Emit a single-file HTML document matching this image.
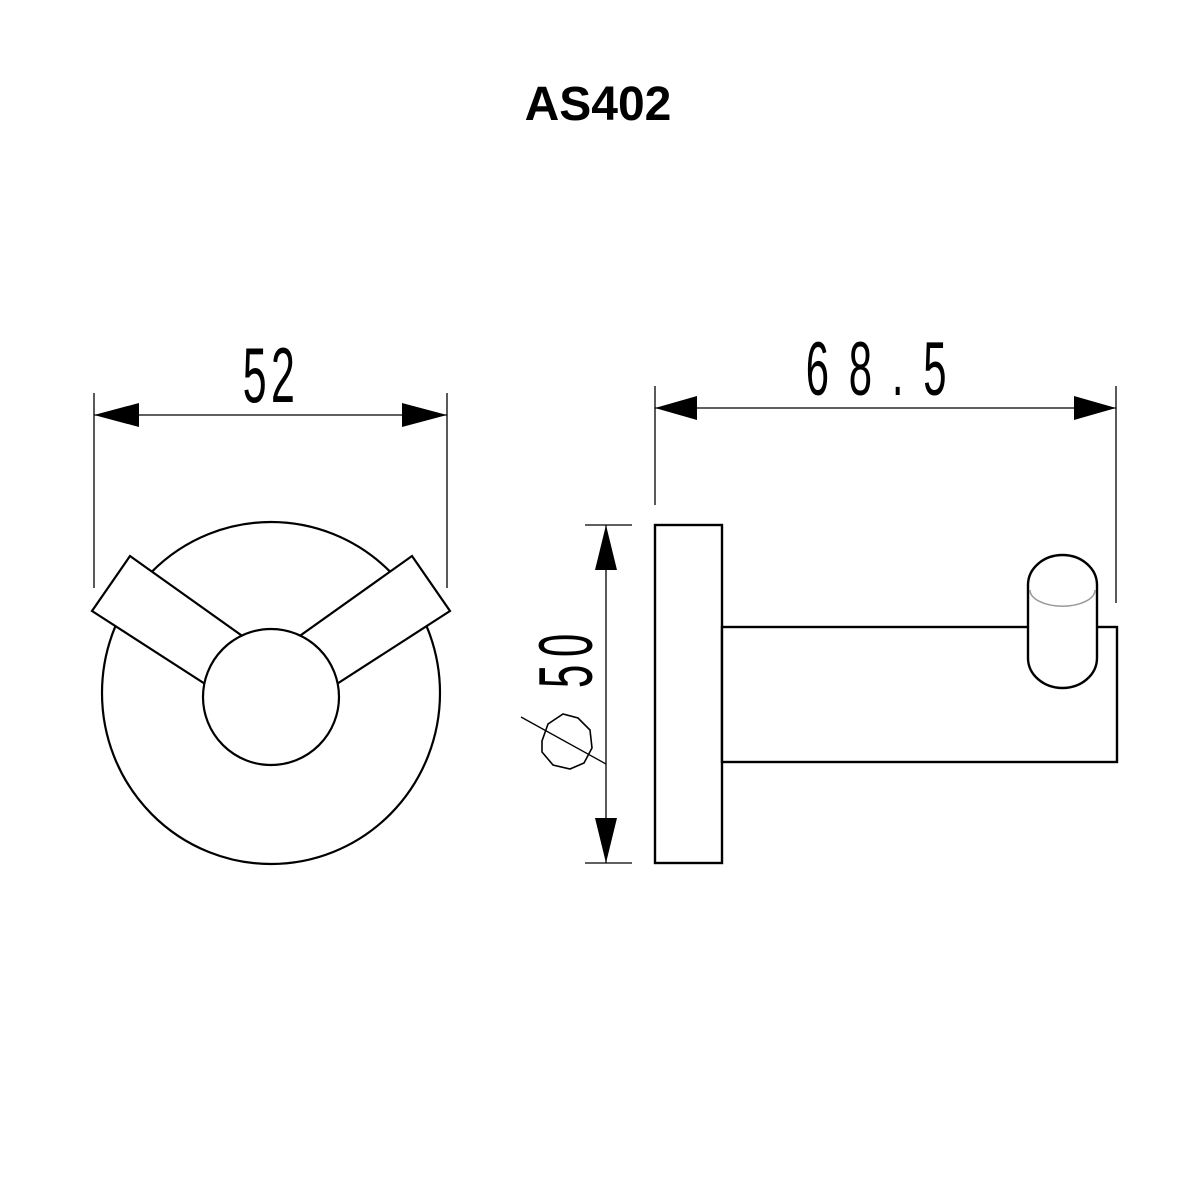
<!DOCTYPE html>
<html><head><style>html,body{margin:0;padding:0;background:#fff}svg{display:block}</style></head>
<body>
<svg width="1200" height="1200" viewBox="0 0 1200 1200" xmlns="http://www.w3.org/2000/svg">
<rect width="1200" height="1200" fill="#fff"/>
<text x="598" y="120" text-anchor="middle" font-family="Liberation Sans, Arial, sans-serif" font-weight="bold" font-size="48" fill="#000">AS402</text>

<!-- left view dims -->
<g stroke="#000" stroke-width="1.3" fill="none">
<line x1="94" y1="393" x2="94" y2="588"/>
<line x1="447" y1="393" x2="447" y2="588"/>
<line x1="94" y1="415" x2="447" y2="415"/>
</g>
<polygon points="94,415 139,403 139,427" fill="#000"/>
<polygon points="447,415 402,403 402,427" fill="#000"/>
<text transform="translate(271,402) scale(0.55,1)" text-anchor="middle" font-family="Liberation Sans, sans-serif" font-size="78" fill="#000" font-weight="normal" letter-spacing="8">52</text>

<!-- left view shape -->
<g stroke="#000" stroke-width="2.2" fill="#fff">
<ellipse cx="271" cy="693" rx="169" ry="171"/>
<polygon points="130,556 92,611 230,700 262,650"/>
<polygon points="412,556 450,611 312,700 280,650"/>
<circle cx="271" cy="697" r="68"/>
</g>

<!-- right view dims -->
<g stroke="#000" stroke-width="1.3" fill="none">
<line x1="655" y1="386" x2="655" y2="505"/>
<line x1="1116" y1="386" x2="1116" y2="603"/>
<line x1="655" y1="408" x2="1116" y2="408"/>
<line x1="585" y1="525" x2="632" y2="525"/>
<line x1="585" y1="863" x2="632" y2="863"/>
<line x1="606" y1="525" x2="606" y2="863"/>
<line x1="521" y1="717" x2="606" y2="764"/>
<polygon points="542,741 548,724 563,714 578,718 590,730 592,748 584,763 570,769 553,765 542,752" stroke-width="1.6"/>
</g>
<polygon points="655,408 697,396 697,420" fill="#000"/>
<polygon points="1116,408 1074,396 1074,420" fill="#000"/>
<polygon points="606,525 595,570 617,570" fill="#000"/>
<polygon points="606,863 595,818 617,818" fill="#000"/>
<text transform="translate(886,395) scale(0.55,1)" text-anchor="middle" font-family="Liberation Sans, sans-serif" font-size="76" fill="#000" letter-spacing="36">68.5</text>
<text transform="translate(592,657) rotate(-90) scale(0.55,1)" text-anchor="middle" font-family="Liberation Sans, sans-serif" font-size="76" fill="#000" letter-spacing="14">50</text>

<!-- right view shape -->
<g stroke="#000" stroke-width="2.4" fill="#fff">
<rect x="655" y="525" width="67" height="338"/>
<rect x="722" y="627" width="395" height="135"/>
<path d="M1028,585 A34.5,30 0 0 1 1097,585 L1097,658 A34.5,30 0 0 1 1028,658 Z"/>
</g>
<path d="M1030,590 A32,16 0 0 0 1095,590" stroke="#999" stroke-width="1.5" fill="none"/>
</svg>
</body></html>
